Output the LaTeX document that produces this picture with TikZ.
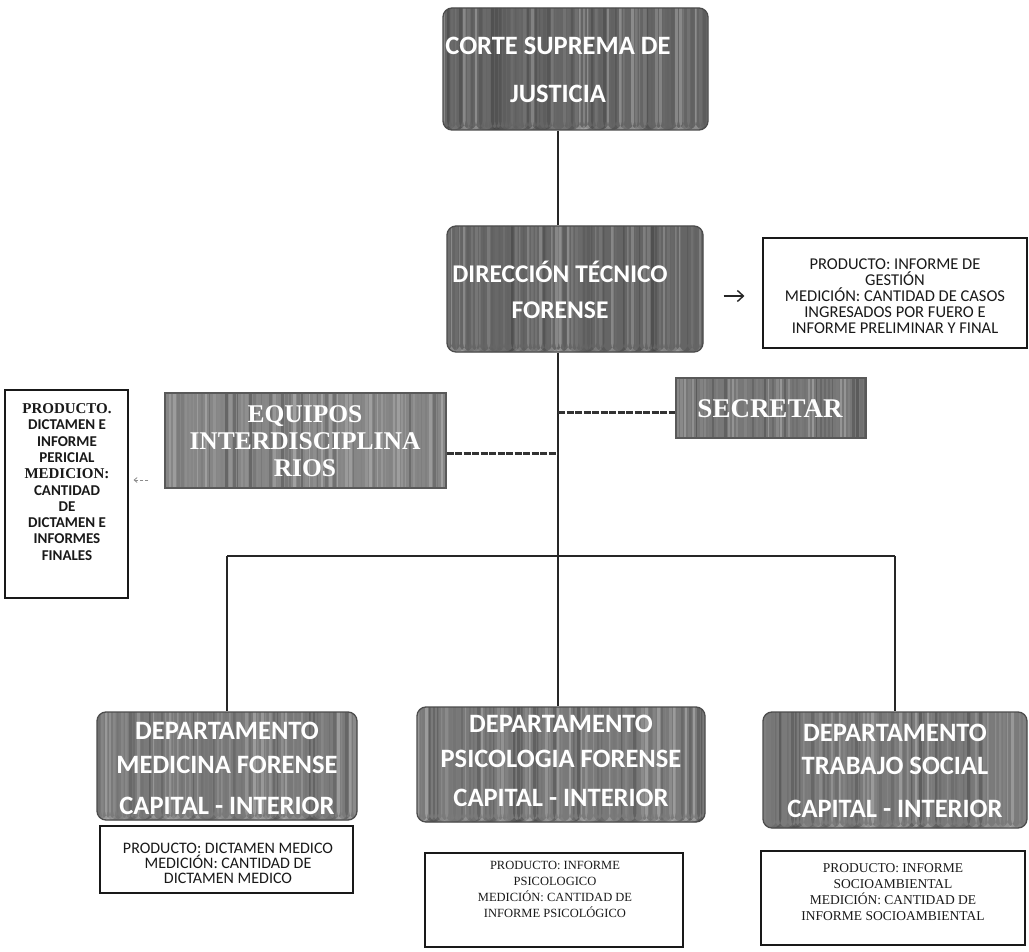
\documentclass[tikz,border=0pt]{standalone}
\usepackage{fontspec}
\setmainfont{Carlito}
\newfontfamily\tnr{Liberation Serif}
\usetikzlibrary{arrows.meta}
\definecolor{gA}{HTML}{656565}
\definecolor{gB}{HTML}{7A7A7A}
\definecolor{gC}{HTML}{868686}
\definecolor{gD}{HTML}{777777}
\tikzset{
  stripes/.style={path picture={
    \pgfmathsetseed{#1}
    \foreach \k in {0,4,...,300}{
      \pgfmathsetmacro\s{int(15+70*rnd)}
      \pgfmathsetmacro\w{1+2.5*rnd}
      \fill[black!\s!white, opacity=.35] ([xshift=\k pt]path picture bounding box.south west) rectangle ++(\w pt,200pt);
    }}},
  gbox/.style={draw=black!70, line width=1.3pt, fill=#1, rounded corners=9pt, inner sep=0pt},
  sbox/.style={draw=black!65, line width=1.1pt, fill=#1, inner sep=0pt},
  ttl/.style={text=white, align=center, inner sep=0pt},
  prodbox/.style={draw=black!90, line width=1.1pt, fill=white, inner sep=0pt},
  ptxt/.style={align=center, inner sep=0pt, text=black!90},
  conn/.style={line width=1.3pt, draw=black!85},
  hconn/.style={line width=3pt, draw=black!80, dash pattern=on 7pt off 1.5pt},
  arr/.style={line width=1.4pt, draw=black!85, -{Straight Barb[length=6pt,width=11pt]}},
  larr/.style={line width=0.8pt, draw=black!45, densely dashed, -{Straight Barb[length=3pt,width=5pt]}},
}
\begin{document}
\begin{tikzpicture}[x=1pt,y=-1pt]
\useasboundingbox (0,0) rectangle (1029,952);
\fill[white] (0,0) rectangle (1029,952);

% top boxes
\node[gbox=gA, stripes=3, minimum width=265pt, minimum height=122pt] (corte) at (575.5,69) {};
\node[ttl, font=\bfseries\fontsize{26.5}{48}\selectfont] (corteT) at (558,70) {CORTE SUPREMA DE\\JUSTICIA};

\node[gbox=gA, stripes=5, minimum width=256pt, minimum height=126pt] (dir) at (575,289) {};
\node[ttl, font=\bfseries\fontsize{25.5}{36}\selectfont] (dirT) at (560,290) {DIRECCIÓN TÉCNICO\\FORENSE};

\node[prodbox, minimum width=264pt, minimum height=110pt] (gest) at (895,293) {};
\node[ptxt, font=\fontsize{16.5}{16}\selectfont] (gestT) at (895,296) {PRODUCTO: INFORME DE\\GESTIÓN\\MEDICIÓN: CANTIDAD DE CASOS\\INGRESADOS POR FUERO E\\INFORME PRELIMINAR Y FINAL};

% middle level
\node[sbox=gC, stripes=7, minimum width=281pt, minimum height=95pt] (equipos) at (305.5,440.5) {};
\node[ttl, font=\tnr\bfseries\fontsize{25.5}{27}\selectfont] (equiposT) at (305,441) {EQUIPOS\\INTERDISCIPLINA\\RIOS};

\node[sbox=gD, stripes=9, minimum width=190pt, minimum height=60pt] (secr) at (771,408) {};
\node[ttl, font=\tnr\bfseries\fontsize{27}{30}\selectfont] (secrT) at (770,409) {SECRETAR};

\node[prodbox, minimum width=123pt, minimum height=208pt] (lprod) at (66.5,494) {};
\node[ptxt, font=\bfseries\fontsize{15}{16.3}\selectfont] (lprodT) at (67,482) {{\tnr PRODUCTO.}\\DICTAMEN E\\INFORME\\PERICIAL\\{\tnr MEDICION:}\\CANTIDAD\\DE\\DICTAMEN E\\INFORMES\\FINALES};

% departments
\node[gbox=gB, stripes=11, minimum width=260pt, minimum height=108pt] (med) at (227,766) {};
\node[ttl, font=\bfseries\fontsize{26.5}{34}\selectfont] (medT) at (227,768) {DEPARTAMENTO\\MEDICINA FORENSE\\[7pt]CAPITAL - INTERIOR};

\node[gbox=gB, stripes=13, minimum width=288pt, minimum height=115pt] (psico) at (561,764.5) {};
\node[ttl, font=\bfseries\fontsize{26.5}{35}\selectfont] (psicoT) at (561,761) {DEPARTAMENTO\\PSICOLOGIA FORENSE\\[4pt]CAPITAL - INTERIOR};

\node[gbox=gB, stripes=15, minimum width=264pt, minimum height=116pt] (trab) at (895,770) {};
\node[ttl, font=\bfseries\fontsize{26.5}{33}\selectfont] (trabT) at (895,771) {DEPARTAMENTO\\TRABAJO SOCIAL\\[10pt]CAPITAL - INTERIOR};

% product boxes
\node[prodbox, minimum width=253pt, minimum height=67pt] (medP) at (226.5,859.5) {};
\node[ptxt, font=\fontsize{16}{15}\selectfont] (medPT) at (228,863) {PRODUCTO: DICTAMEN MEDICO\\MEDICIÓN: CANTIDAD DE\\DICTAMEN MEDICO};

\node[prodbox, minimum width=258pt, minimum height=94pt] (psicoP) at (554,900) {};
\node[ptxt, font=\tnr\fontsize{12.5}{16}\selectfont] (psicoPT) at (555,889) {PRODUCTO: INFORME\\PSICOLOGICO\\MEDICIÓN: CANTIDAD DE\\INFORME PSICOLÓGICO};

\node[prodbox, minimum width=264pt, minimum height=94pt] (trabP) at (893,898) {};
\node[ptxt, font=\tnr\fontsize{13.5}{16}\selectfont] (trabPT) at (893,892) {PRODUCTO: INFORME\\SOCIOAMBIENTAL\\MEDICIÓN: CANTIDAD DE\\INFORME SOCIOAMBIENTAL};

% connectors
\coordinate (tk) at (558,0);
\coordinate (busL) at (227,556);
\coordinate (busR) at (895,556);
\coordinate (eqy) at (0,453);
\coordinate (sey) at (0,412);
\coordinate (ay) at (0,296);
\coordinate (ly) at (0,480);

\draw[conn] (corte.south -| tk) -- (dir.north -| tk);
\draw[conn] (dir.south -| tk) -- (busL -| tk);
\draw[conn] (busL) -- (busR);
\draw[conn] (busL) -- (med.north -| busL);
\draw[conn] (busL -| tk) -- (psico.north -| tk);
\draw[conn] (busR) -- (trab.north -| busR);
\draw[hconn] (equipos.east |- eqy) -- (tk |- eqy);
\draw[hconn] (tk |- sey) -- (secr.west |- sey);
\draw[arr, shorten <=20pt, shorten >=18pt] (dir.east |- ay) -- (gest.west |- ay);
\draw[larr, shorten <=16pt, shorten >=5pt] (equipos.west |- ly) -- (lprod.east |- ly);
\end{tikzpicture}
\end{document}
